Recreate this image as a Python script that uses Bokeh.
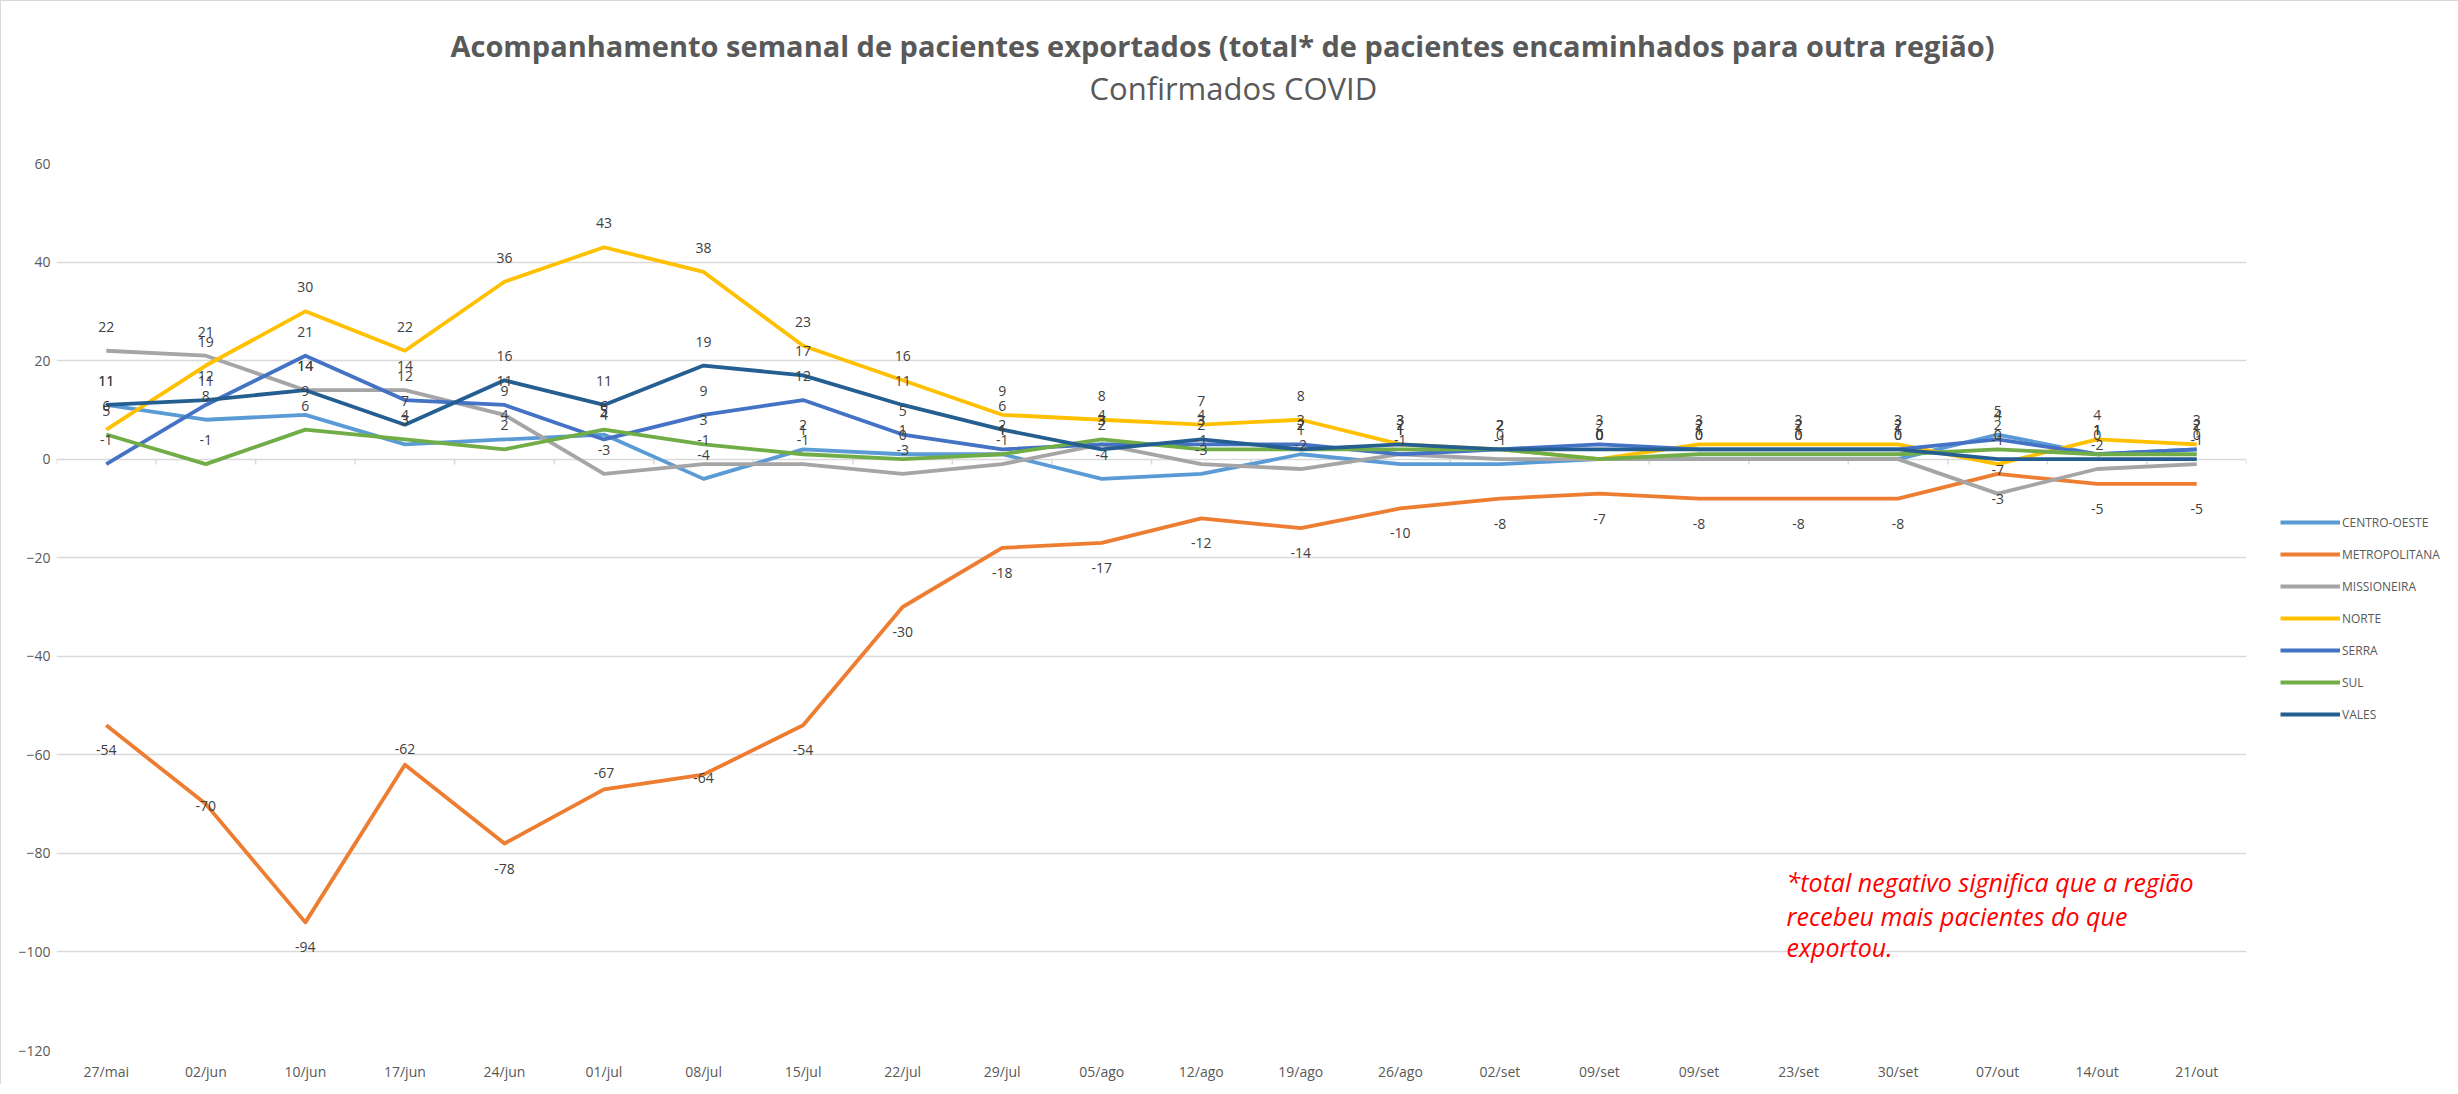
from bokeh.plotting import figure
from bokeh.models import ColumnDataSource, LabelSet, Label, Legend, LegendItem, Range1d, FixedTicker, Title
from bokeh.embed import file_html
from bokeh.resources import INLINE
from bokeh.core.properties import value

dates = ["27/mai", "02/jun", "10/jun", "17/jun", "24/jun", "01/jul", "08/jul", "15/jul",
         "22/jul", "29/jul", "05/ago", "12/ago", "19/ago", "26/ago", "02/set", "09/set",
         "09/set", "23/set", "30/set", "07/out", "14/out", "21/out"]

centro_oeste = [11, 8, 9, 3, 4, 5, -4, 2, 1, 1, -4, -3, 1, -1, -1, 0, 0, 0, 0, 5, 1, 2]
metropolitana = [-54, -70, -94, -62, -78, -67, -64, -54, -30, -18, -17, -12, -14, -10, -8, -7, -8, -8, -8, -3, -5, -5]
missioneira = [22, 21, 14, 14, 9, -3, -1, -1, -3, -1, 3, -1, -2, 1, 0, 0, 0, 0, 0, -7, -2, -1]
norte = [6, 19, 30, 22, 36, 43, 38, 23, 16, 9, 8, 7, 8, 3, 2, 0, 3, 3, 3, -1, 4, 3]
serra = [-1, 11, 21, 12, 11, 4, 9, 12, 5, 2, 3, 3, 3, 1, 2, 3, 2, 2, 2, 4, 1, 2]
sul = [5, -1, 6, 4, 2, 6, 3, 1, 0, 1, 4, 2, 2, 2, 2, 0, 1, 1, 1, 2, 1, 1]
vales = [11, 12, 14, 7, 16, 11, 19, 17, 11, 6, 2, 4, 2, 3, 2, 2, 2, 2, 2, 0, 0, 0]

series_names = ["CENTRO-OESTE", "METROPOLITANA", "MISSIONEIRA", "NORTE", "SERRA", "SUL", "VALES"]
series_values = [centro_oeste, metropolitana, missioneira, norte, serra, sul, vales]
series_colors = ["#5B9BD5", "#ED7D31", "#A5A5A5", "#FFC000", "#4472C4", "#70AD47", "#255E91"]

y_ticks = [-120, -100, -80, -60, -40, -20, 0, 20, 40, 60]

title_text = "Acompanhamento semanal de pacientes exportados (total* de pacientes encaminhados para outra região)"
subtitle_text = "Confirmados COVID"
note_lines = ["*total negativo significa que a região", " recebeu mais pacientes do que", "exportou."]

FONT = "Open Sans"
xs = list(range(len(dates)))

# data label vertical offsets (px): above the point, except METROPOLITANA (mostly below)
label_offsets = []
for name, vals in zip(series_names, series_values):
    if name == "METROPOLITANA":
        offs = [-25] * len(vals)
        offs[1] = -2
        offs[3] = 16
        offs[5] = 16
        offs[6] = -3
    else:
        offs = [24] * len(vals)
    label_offsets.append(offs)

p = figure(frame_width=2190, frame_height=887, output_backend="svg", toolbar_location=None,
           x_range=Range1d(-0.5, len(dates) - 0.5), y_range=Range1d(-120, 60),
           min_border_left=55, min_border_right=197, min_border_top=162, min_border_bottom=34)
p.styles = {"border-top": "1px solid #D9D9D9", "border-left": "1px solid #D9D9D9"}
p.outline_line_color = None
p.background_fill_color = "white"
p.border_fill_color = "white"

# axes
p.xaxis.ticker = FixedTicker(ticks=xs)
p.xaxis.major_label_overrides = {i: d for i, d in enumerate(dates)}
p.xaxis.axis_line_color = None
p.xaxis.major_tick_line_color = None
p.xaxis.minor_tick_line_color = None
p.xaxis.major_label_standoff = 5
p.xaxis.major_label_text_font = FONT
p.xaxis.major_label_text_font_size = "14px"
p.xaxis.major_label_text_color = "#595959"

p.yaxis.ticker = FixedTicker(ticks=y_ticks)
p.yaxis.axis_line_color = None
p.yaxis.major_tick_line_color = None
p.yaxis.minor_tick_line_color = None
p.yaxis.major_label_standoff = 0
p.yaxis.major_label_text_font = FONT
p.yaxis.major_label_text_font_size = "14px"
p.yaxis.major_label_text_color = "#595959"

p.xgrid.grid_line_color = None
p.ygrid.grid_line_color = "#D9D9D9"
p.ygrid.grid_line_width = 1.5

# titles (added nearest-first)
p.add_layout(Title(text=" ", text_font_size="48px", standoff=0), "above")
p.add_layout(Title(text=subtitle_text, align="left", offset=1033, text_font=FONT,
                   text_font_style="normal", text_font_size="31px", text_color="#595959",
                   standoff=0), "above")
p.add_layout(Title(text=title_text, align="left", offset=394, text_font=FONT,
                   text_font_style="bold", text_font_size="29px", text_color="#595959",
                   standoff=0), "above")

# category boundary tick marks on the zero line
bounds = [i - 0.5 for i in range(len(dates) + 1)]
p.segment(x0=bounds, y0=[0] * len(bounds), x1=bounds, y1=[-1.1] * len(bounds),
          line_color="#D9D9D9", line_width=1.5)

items = []
sources = []
for name, vals, col, offs in zip(series_names, series_values, series_colors, label_offsets):
    src = ColumnDataSource(dict(x=xs, y=vals, t=[str(v) for v in vals], off=offs))
    sources.append(src)
    r = p.line("x", "y", source=src, line_color=col, line_width=3.8, line_join="round")
    items.append(LegendItem(label=name, renderers=[r]))

for src in sources:
    ls = LabelSet(x="x", y="y", text="t", source=src, text_align="center", text_baseline="middle",
                  y_offset="off", text_font=value(FONT), text_font_size=value("14px"),
                  text_color=value("#404040"))
    p.add_layout(ls)

legend = Legend(items=items, location=(34, 326), orientation="vertical",
                glyph_width=60, glyph_height=20, label_height=20, label_standoff=2,
                spacing=12, padding=0, margin=0, border_line_color=None,
                background_fill_alpha=0, label_text_font=FONT, label_text_font_size="12px",
                label_text_color="#595959")
p.add_layout(legend, "right")

note_y = [-85.8, -92.7, -99.0]
for line, yv in zip(note_lines, note_y):
    p.add_layout(Label(x=16.88, y=yv, text=line, text_align="left", text_baseline="middle",
                       text_font=FONT, text_font_style="italic", text_font_size="25px",
                       text_color="#FF0000"))

open("out.html", "w").write(file_html(p, INLINE))
